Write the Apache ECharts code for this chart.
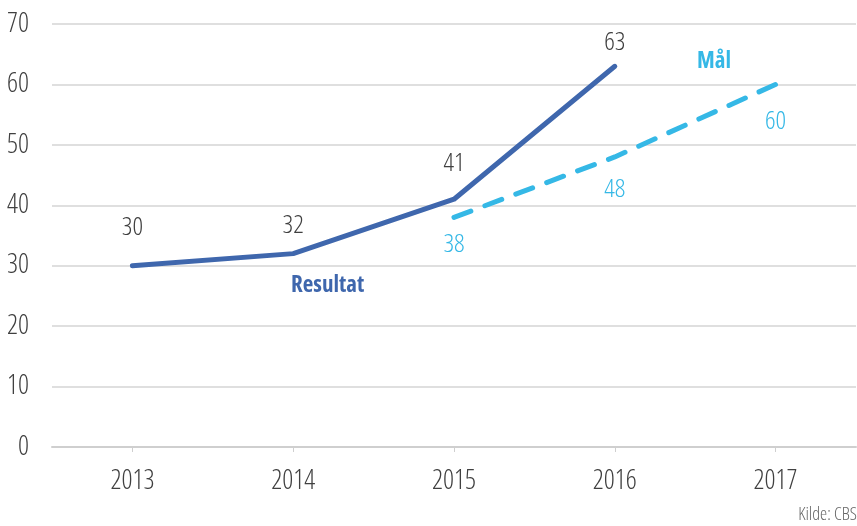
<!DOCTYPE html>
<html>
<head>
<meta charset="utf-8">
<script src="https://cdn.jsdelivr.net/npm/echarts@6/dist/echarts.min.js"></script>
<style>
  html, body { margin: 0; padding: 0; background: #fff; }
  #chart { width: 857px; height: 526px; }
</style>
</head>
<body>
<div id="chart"></div>
<script>
const years = ['2013', '2014', '2015', '2016', '2017']
const resultat = [30, 32, 41, 63, null]
const maal = [null, null, 38, 48, 60]
const yTicks = [0, 10, 20, 30, 40, 50, 60, 70]

const font = '"Open Sans", sans-serif'
const stretch = 'condensed'
const blue = '#3f67ad'
const lightBlue = '#35b8e6'
const textGrey = '#404040'

// hand placed label offsets, like in the original
const resOffsets = [[0, -14], [0, -4], [0, -12], [0, 0]]
const maalOffsets = [[0, 0], [0, 0], [0, 0], [0, 6], [0, 10]]

const chart = echarts.init(document.getElementById('chart'))
chart.setOption({
  animation: false,
  textStyle: { fontFamily: font },
  grid: { left: 52, right: 1, top: 24, bottom: 79 },
  xAxis: {
    type: 'category',
    data: years,
    boundaryGap: true,
    axisLine: { lineStyle: { color: '#cfcfcf', width: 2 } },
    axisTick: { show: true, alignWithLabel: true, length: 5, lineStyle: { color: '#cfcfcf' } },
    axisLabel: { color: textGrey, fontSize: 27, fontWeight: 300, margin: 21, fontFamily: font, fontStyle: stretch }
  },
  yAxis: {
    type: 'value',
    min: yTicks[0],
    max: yTicks[yTicks.length - 1],
    interval: 10,
    axisLine: { show: false },
    axisTick: { show: false },
    splitLine: { lineStyle: { color: '#d4d4d4', width: 1.5 } },
    axisLabel: { color: textGrey, fontSize: 27, fontWeight: 300, margin: 23, fontFamily: font, fontStyle: stretch }
  },
  series: [
    {
      name: 'Resultat',
      type: 'line',
      data: resultat.map((v, i) => ({
        value: v,
        label: { offset: resOffsets[i] || [0, 0] }
      })),
      symbol: 'circle',
      symbolSize: 2,
      itemStyle: { color: 'rgba(0,0,0,0)', borderWidth: 0 },
      lineStyle: { color: blue, width: 5, cap: 'round', join: 'round' },
      label: {
        show: true,
        position: 'top',
        distance: 10,
        color: textGrey,
        fontSize: 26,
        fontWeight: 300,
        fontFamily: font,
        fontStyle: stretch
      }
    },
    {
      name: 'Mål',
      type: 'line',
      data: maal.map((v, i) => ({
        value: v,
        label: { offset: maalOffsets[i] }
      })),
      symbol: 'circle',
      symbolSize: 2,
      itemStyle: { color: 'rgba(0,0,0,0)', borderWidth: 0 },
      lineStyle: { color: lightBlue, width: 5, type: [18, 15], cap: 'round' },
      label: {
        show: true,
        position: 'bottom',
        distance: 13,
        color: lightBlue,
        fontSize: 26,
        fontWeight: 300,
        fontFamily: font,
        fontStyle: stretch
      }
    }
  ],
  graphic: [
    {
      type: 'text',
      left: 291,
      top: 274,
      style: { text: 'Resultat', fill: blue, font: 'condensed bold 23px ' + font }
    },
    {
      type: 'text',
      left: 697,
      top: 50,
      style: { text: 'Mål', fill: lightBlue, font: 'condensed bold 23px ' + font }
    },
    {
      type: 'text',
      right: 0,
      top: 506,
      style: { text: 'Kilde: CBS', fill: '#666', font: 'condensed 300 18px ' + font }
    }
  ]
})
</script>
</body>
</html>
